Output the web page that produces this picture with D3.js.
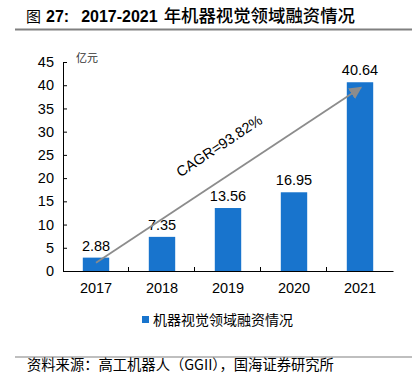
<!DOCTYPE html>
<html lang="zh">
<head>
<meta charset="UTF-8">
<title>2017-2021 年机器视觉领域融资情况</title>
<script src="https://d3js.org/d3.v7.min.js"></script>
<style>
    body { margin: 0; background: #fff; }
    svg { display: block; font-family: "Liberation Sans", Arial, sans-serif; }
    .cjk { font-family: "Noto Sans CJK SC", sans-serif; }
</style>
</head>
<body>
<svg id="canvas" width="412" height="377"></svg>
<script>
    // data
    let years = ["2017", "2018", "2019", "2020", "2021"]
    let funding = [2.88, 7.35, 13.56, 16.95, 40.64]
    let yTicks = [0, 5, 10, 15, 20, 25, 30, 35, 40, 45]
    let seriesName = "机器视觉领域融资情况"
    let cagrLabel = "CAGR=93.82%"

    let svg = d3.select("#canvas")
    let margin = {left: 63, right: 19, top: 62, bottom: 106}
    let W = 412, H = 377

    let x = d3.scaleBand().domain(years)
        .range([margin.left, W - margin.right])
        .paddingInner(0.6).paddingOuter(0.3)
    let y = d3.scaleLinear().domain([0, 45]).range([H - margin.bottom, margin.top])

    // title
    let title = svg.append("text").attr("x", 26).attr("y", 22).attr("fill", "#000")
    title.append("tspan").attr("class", "cjk").attr("font-size", 15).text("图")
    title.append("tspan").attr("dx", 5).attr("font-size", 16).attr("font-weight", "bold").text("27:")
    title.append("tspan").attr("dx", 12).attr("font-size", 16).attr("font-weight", "bold").text("2017-2021")
    title.append("tspan").attr("dx", 6).attr("class", "cjk").attr("font-size", 17.4).attr("font-weight", 500)
        .text("年机器视觉领域融资情况")
    svg.append("line").attr("x1", 15).attr("x2", W).attr("y1", 29.5).attr("y2", 29.5)
        .attr("stroke", "#808080").attr("stroke-width", 2)

    // y axis
    let yAxis = svg.append("g").attr("transform", `translate(${margin.left},0)`)
        .call(d3.axisLeft(y).tickValues(yTicks).tickSizeInner(-4).tickSizeOuter(0).tickPadding(9))
    yAxis.selectAll("text").attr("font-size", 14.5).attr("fill", "#000").attr("font-family", "Liberation Sans, Arial")
    yAxis.selectAll("line,path").attr("stroke", "#000")

    // x axis
    let xAxis = svg.append("g").attr("transform", `translate(0,${y(0)})`)
        .call(d3.axisBottom(x).tickSize(0).tickPadding(12))
    xAxis.selectAll("text").attr("font-size", 14.5).attr("fill", "#000").attr("font-family", "Liberation Sans, Arial")
    xAxis.select("path").attr("stroke", "#000")
    // separators between categories, pointing up
    let step = x.step()
    xAxis.selectAll(".sep").data(years.slice(1)).enter().append("line")
        .attr("x1", d => x(d) - x.paddingInner() * step / 2 - 0.5)
        .attr("x2", d => x(d) - x.paddingInner() * step / 2 - 0.5)
        .attr("y1", 0).attr("y2", -4).attr("stroke", "#000")

    svg.append("text").attr("class", "cjk")
        .attr("x", 76).attr("y", 62).attr("font-size", 11).attr("fill", "#333")
        .text("亿元")

    // bars
    svg.selectAll("rect.bar").data(years).enter().append("rect")
        .attr("class", "bar")
        .attr("x", d => x(d)).attr("width", x.bandwidth())
        .attr("y", (d, i) => y(funding[i]))
        .attr("height", (d, i) => y(0) - y(funding[i]))
        .attr("fill", "#1874CD")

    svg.selectAll("text.val").data(years).enter().append("text")
        .attr("class", "val")
        .attr("x", d => x(d) + x.bandwidth() / 2)
        .attr("y", (d, i) => y(funding[i]) - 7)
        .attr("text-anchor", "middle").attr("font-size", 14.5).attr("fill", "#000")
        .text((d, i) => funding[i].toFixed(2))

    // CAGR arrow
    svg.append("defs").append("marker").attr("id", "arr")
        .attr("viewBox", "0 0 10 10").attr("refX", 9).attr("refY", 5)
        .attr("markerWidth", 7).attr("markerHeight", 7).attr("orient", "auto")
        .append("path").attr("d", "M0,0 L10,5 L0,10 z").attr("fill", "#8c8c8c")
    let x0 = x(years[0]) + x.bandwidth() / 2, y0 = y(1.8)
    let x1 = x(years[4]) + x.bandwidth() / 2 + 1, y1 = y(39.5)
    svg.append("line").attr("x1", x0).attr("y1", y0).attr("x2", x1).attr("y2", y1)
        .attr("stroke", "#8c8c8c").attr("stroke-width", 1.8).attr("marker-end", "url(#arr)")
    let ang = Math.atan2(y1 - y0, x1 - x0) * 180 / Math.PI
    svg.append("text")
        .attr("transform", `translate(222,150) rotate(${ang})`)
        .attr("text-anchor", "middle").attr("font-size", 14.5).attr("fill", "#000")
        .text(cagrLabel)

    // legend
    let lg = svg.append("g").attr("transform", "translate(142,320)")
    lg.append("rect").attr("x", 0).attr("y", -4).attr("width", 7).attr("height", 7).attr("fill", "#1874CD")
    lg.append("text").attr("class", "cjk").attr("x", 11).attr("y", 5)
        .attr("font-size", 14).attr("fill", "#000").text(seriesName)

    // source
    svg.append("line").attr("x1", 15).attr("x2", W).attr("y1", 357).attr("y2", 357)
        .attr("stroke", "#808080").attr("stroke-width", 1.2)
    svg.append("text").attr("class", "cjk")
        .attr("x", 27).attr("y", 370).attr("font-size", 14.3).attr("fill", "#000")
        .text("资料来源：高工机器人（GGII），国海证券研究所")
</script>
</body>
</html>
